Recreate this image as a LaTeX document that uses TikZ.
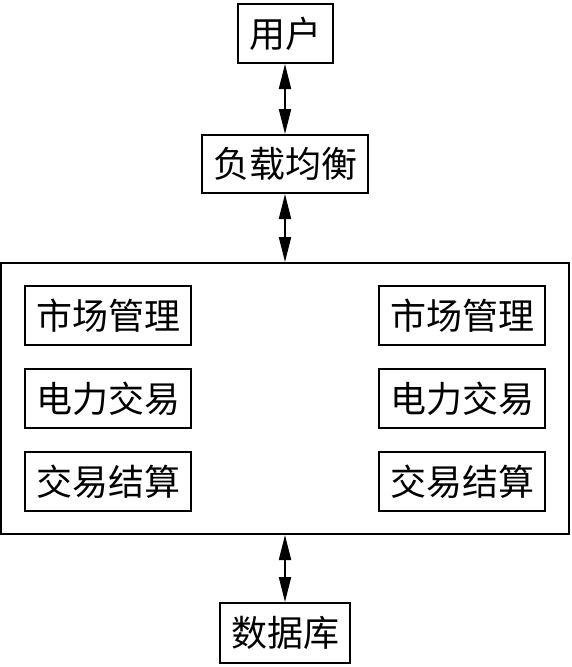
\documentclass[tikz,border=0pt]{standalone}
\usepackage{fontspec}
\newfontfamily\cjk{Noto Sans CJK SC}
\usepackage{tikz}
\usetikzlibrary{arrows.meta,positioning}

\begin{document}
\begin{tikzpicture}[x=1pt,y=-1pt,
  box/.style={draw,line width=2pt,inner sep=0pt,minimum height=59pt,font=\cjk\fontsize{36pt}{40pt}\selectfont},
  modbox/.style={box,minimum width=166pt},
  link/.style={line width=2pt,{Triangle[length=25pt,width=12pt]}-{Triangle[length=25pt,width=12pt]}}]
\useasboundingbox (0,0) rectangle (571,667);
\node[box,minimum width=95pt] (user) at (285,33.5) {用户};
\node[box,minimum width=166pt,minimum height=58pt] (lb) at (285,164) {负载均衡};
\node[draw,line width=2pt,minimum width=568pt,minimum height=271pt,inner sep=0pt] (sys) at (285,398.5) {};
\node[modbox] (marketL) at (108,315.5) {市场管理};
\node[modbox] (tradeL) at (108,398.5) {电力交易};
\node[modbox] (settleL) at (108,481.5) {交易结算};
\node[modbox] (marketR) at (462,315.5) {市场管理};
\node[modbox] (tradeR) at (462,398.5) {电力交易};
\node[modbox] (settleR) at (462,481.5) {交易结算};
\node[box,minimum width=130pt,minimum height=60pt] (db) at (285,633) {数据库};
\draw[link] (user) -- (lb);
\draw[link] (lb) -- (sys);
\draw[link] (sys) -- (db);
\end{tikzpicture}
\end{document}
